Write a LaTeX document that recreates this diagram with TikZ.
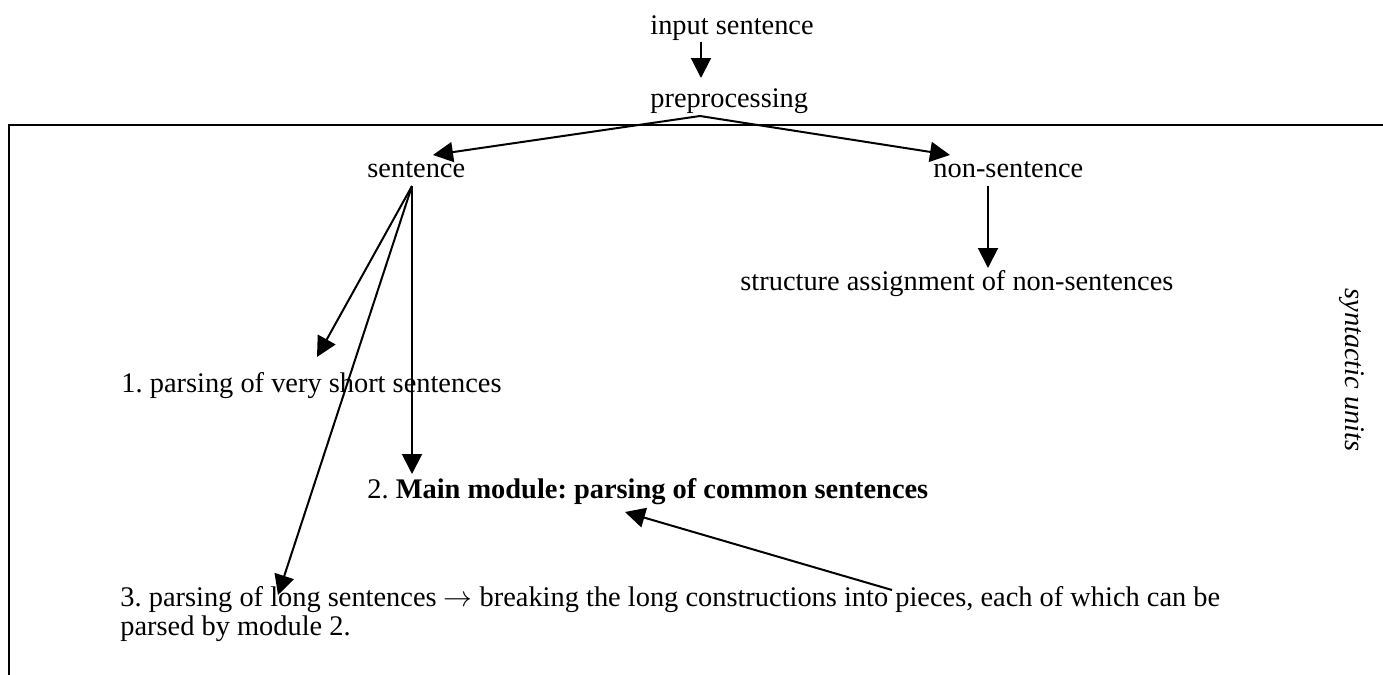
\documentclass[tikz,border=0pt]{standalone}
\usepackage{fontspec}
\setmainfont{Liberation Serif}
\usetikzlibrary{arrows.meta}
\frenchspacing
\begin{document}
\begin{tikzpicture}[x=0.5pt,y=-0.5pt,
  txt/.style={inner sep=0pt,anchor=base west,font=\fontsize{14.2}{17}\selectfont},
  conn/.style={line width=1pt},
  arr/.style={conn,-{Triangle[length=10pt,width=10pt]}}]
\useasboundingbox (0,0) rectangle (1383,675);
% frame
\draw[line width=1pt] (9,675) -- (9,125) -- (1383,125);
% texts
\node[txt] (inp) at (650,34) {input sentence};
\node[txt] (pre) at (650,107) {preprocessing};
\node[txt] (sen) at (367,177) {sentence};
\node[txt] (non) at (933,177) {non-sentence};
\node[txt] (str) at (740,290) {structure assignment of non-sentences};
\node[txt] (p1) at (121,392) {1. parsing of very short sentences};
\node[txt] (p2) at (367,498) {2. \textbf{Main module: parsing of common sentences}};
\node[txt] (p3) at (120,606) {3. parsing of long sentences $\rightarrow$ breaking the long constructions into pieces, each of which can be};
\node[txt] (p3b) at (120,635) {parsed by module 2.};
\node[txt,anchor=base west,rotate=-90,font=\fontsize{14.2}{17}\itshape] (syn) at (1345,288) {syntactic units};
% connector points
\coordinate (inpS) at (701,42);
\coordinate (preN) at (701,78);
\coordinate (apex) at (700,116);
\coordinate (senT) at (433,155);
\coordinate (nonT) at (950,155);
\coordinate (senS) at (412,186);
\coordinate (nonS) at (988,186);
\coordinate (strT) at (988,268);
\coordinate (p1T) at (317,357);
\coordinate (p2T) at (412,474);
\coordinate (p3T) at (278,595);
\coordinate (p3S) at (892,590);
\coordinate (p2B) at (625,512);
% connectors
\draw[arr] (inpS) -- (preN);
\draw[arr] (apex) -- (senT);
\draw[arr] (apex) -- (nonT);
\draw[arr] (nonS) -- (strT);
\draw[arr] (senS) -- (p1T);
\draw[arr] (senS) -- (p2T);
\draw[arr] (senS) -- (p3T);
\draw[arr] (p3S) -- (p2B);
\end{tikzpicture}
\end{document}
